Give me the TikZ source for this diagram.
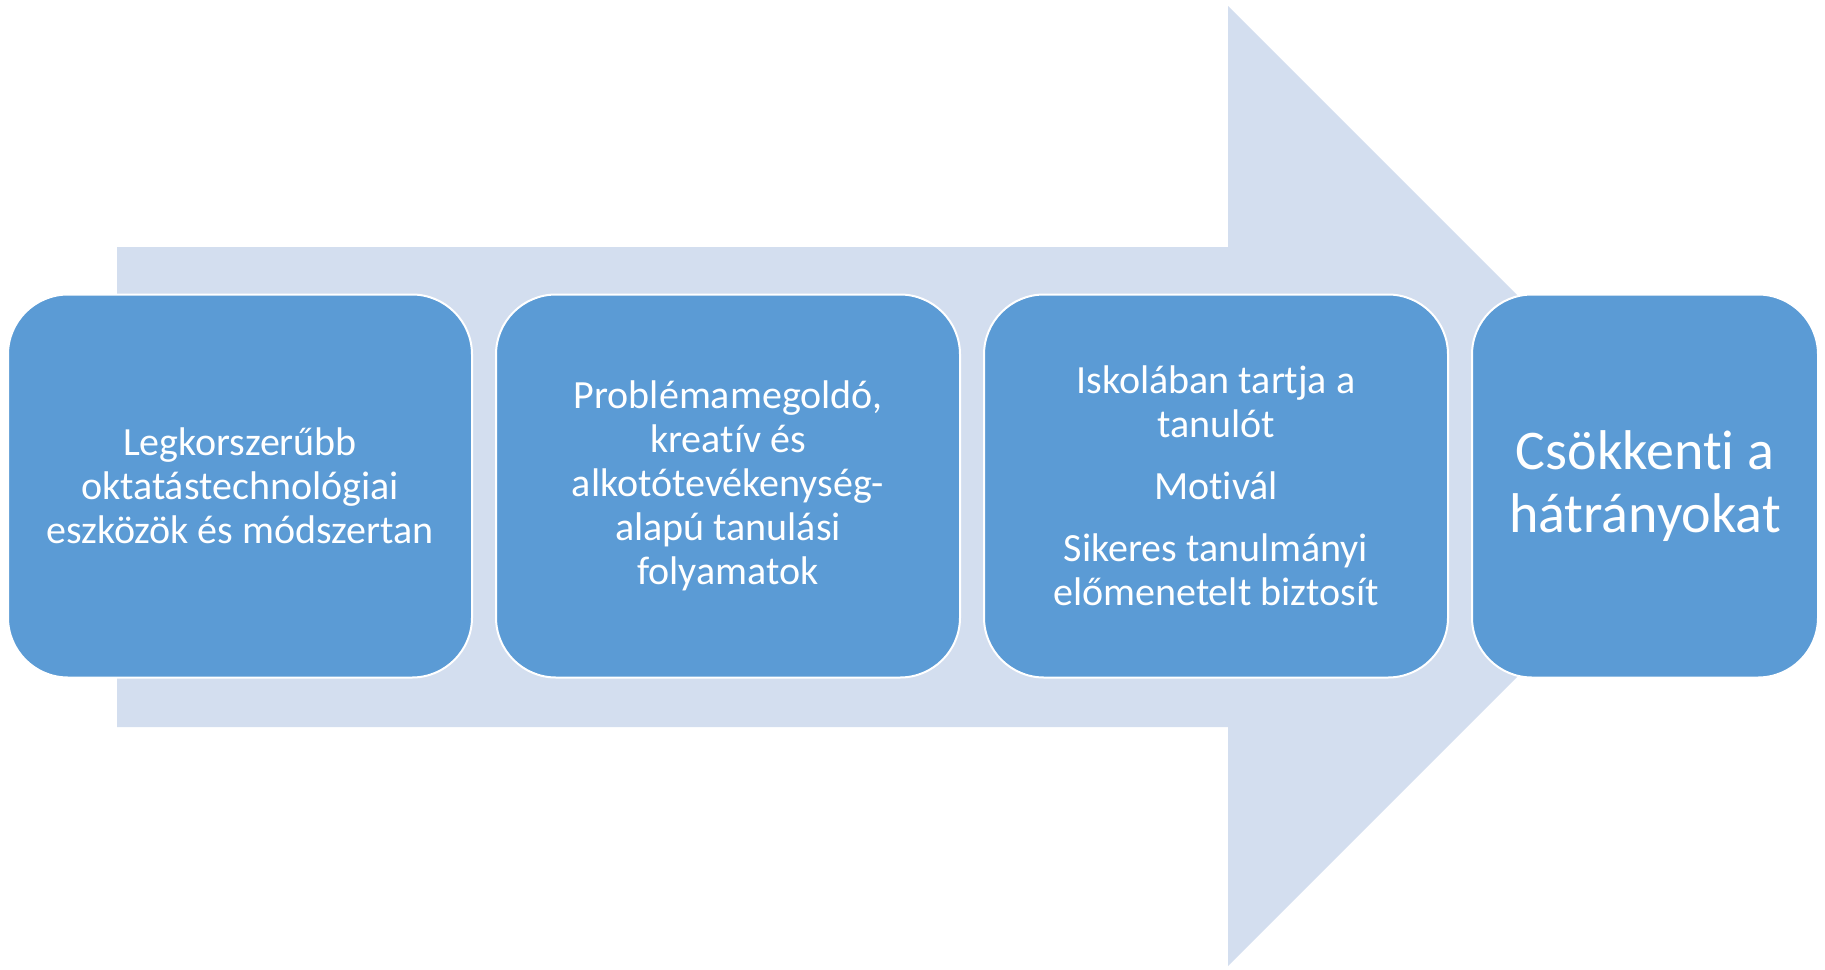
\documentclass[tikz,border=0pt]{standalone}
\usepackage{fontspec}
\setmainfont{Carlito}[Ligatures={NoCommon}]
\usepackage{tikz}
\usetikzlibrary{positioning}
\definecolor{arrowfill}{HTML}{D3DEEF}
\definecolor{boxfill}{HTML}{5B9BD5}

\begin{document}
\begin{tikzpicture}[x=0.5pt, y=-0.5pt, node distance=11pt]
	% Define styles for boxes
	\tikzset{
		stagebox/.style={
			rectangle,
			draw=white,
			line width=1pt,
			fill=boxfill,
			rounded corners=30pt,
			minimum width=232pt,
			minimum height=191.5pt,
			inner sep=0pt,
			text=white,
			align=center,
			font=\fontsize{20}{22}\selectfont
		},
		endbox/.style={
			stagebox,
			minimum width=173pt,
			font=\fontsize{28}{31.5}\selectfont
		}
	}
	\useasboundingbox (0,0) rectangle (1825,969);
	
	% Big background arrow
	\fill[arrowfill] (117,247) -- (1228,247) -- (1228,6) -- (1708,486)
		-- (1228,966) -- (1228,727) -- (117,727) -- cycle;
	
	% Stages
	\node[stagebox] (tools) at (240,486) {Legkorszerűbb\\oktatástechnológiai\\eszközök és módszertan};
	\node[stagebox, right=of tools] (learning) {Problémamegoldó,\\kreatív és\\alkotótevékenység-\\alapú tanulási\\folyamatok};
	\node[stagebox, right=of learning] (effects) {Iskolában tartja a\\tanulót\\[9pt]Motivál\\[9pt]Sikeres tanulmányi\\előmenetelt biztosít};
	\node[endbox, right=of effects] (result) {Csökkenti a\\hátrányokat};
\end{tikzpicture}
\end{document}
